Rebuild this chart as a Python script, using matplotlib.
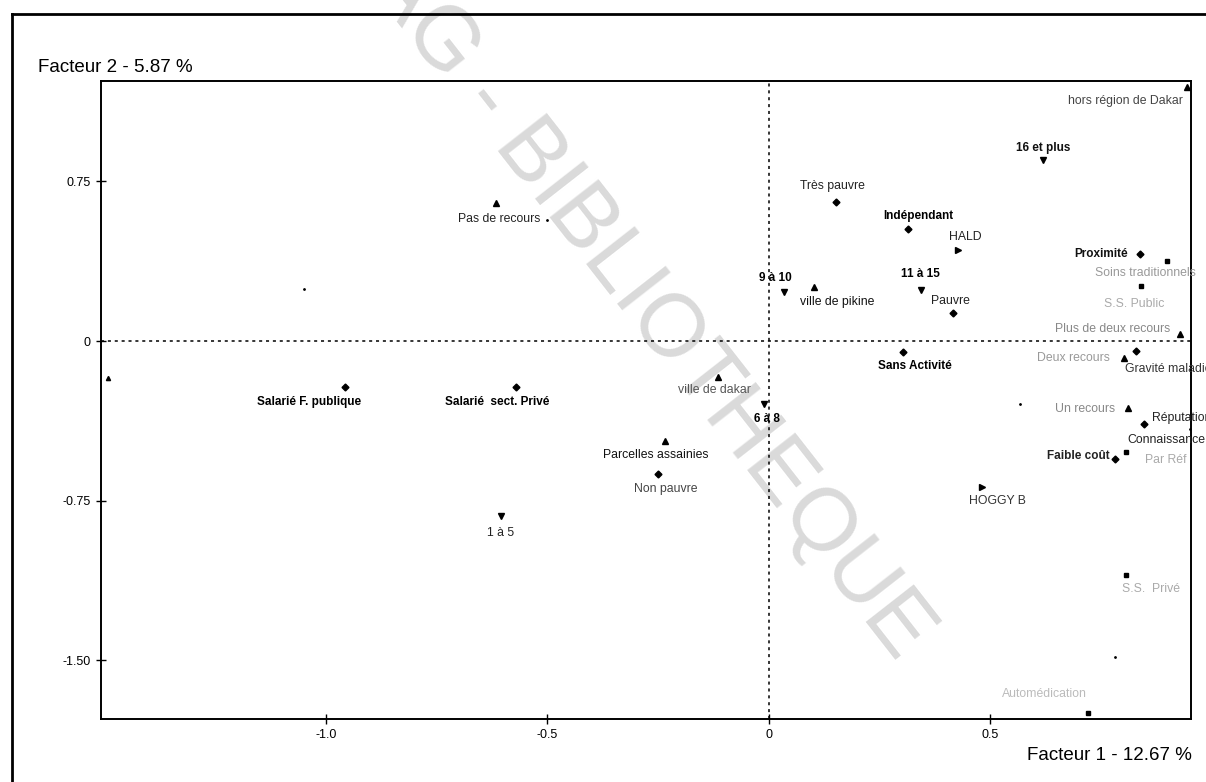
import matplotlib.pyplot as plt
from matplotlib.lines import Line2D

plt.rcParams['font.family'] = ['Liberation Sans', 'DejaVu Sans']

# modalites de l'AFC (coordonnees)
labels = ['Très pauvre', 'Indépendant', 'HALD', '9 à 10', 'ville de pikine', '11 à 15',
          'Pauvre', 'Sans Activité', 'ville de dakar', '6 à 8', 'Salarié F. publique',
          'Salarié  sect. Privé', '1 à 5', 'Pas de recours', 'Parcelles assainies',
          'Non pauvre', 'HOGGY B', '16 et plus', 'hors région de Dakar', 'Proximité',
          'Soins traditionnels', 'S.S. Public', 'Plus de deux recours', 'Deux recours',
          'Gravité maladie', 'Un recours', 'Réputation', 'Connaissance', 'Faible coût',
          'Par Réf', 'S.S.  Privé', 'Automédication']
fact1 = [0.151, 0.313, 0.426, 0.034, 0.102, 0.343,
         0.416, 0.303, -0.114, -0.011, -0.957,
         -0.571, -0.605, -0.616, -0.234,
         -0.251, 0.482, 0.619, 0.944, 0.837,
         0.899, 0.841, 0.928, 0.801,
         0.828, 0.811, 0.846, 0.950, 0.781,
         0.806, 0.807, 0.721]
fact2 = [0.654, 0.527, 0.427, 0.231, 0.255, 0.239,
         0.130, -0.050, -0.168, -0.297, -0.217,
         -0.215, -0.821, 0.646, -0.469,
         -0.626, -0.687, 0.850, 1.192, 0.408,
         0.376, 0.260, 0.033, -0.078,
         -0.047, -0.316, -0.391, -0.415, -0.555,
         -0.522, -1.099, -1.748]
kind = ['rev', 'act', 'hop', 'taille', 'zone', 'taille',
        'rev', 'act', 'zone', 'taille', 'act',
        'act', 'taille', 'rec', 'zone',
        'rev', 'hop', 'taille', 'zone', 'raison',
        'lieu', 'lieu', 'rec', 'rec',
        'raison', 'rec', 'raison', 'pt', 'raison',
        'lieu', 'lieu', 'lieu']

# points isoles sans etiquette
extra_x = [-1.493, -1.050, -0.500, 0.566, 0.781]
extra_y = [-0.174, 0.244, 0.568, -0.296, -1.482]

x_ticks = [-1.0, -0.5, 0, 0.5]
x_ticklabels = ['-1.0', '-0.5', '0', '0.5']
y_ticks = [0.75, 0, -0.75, -1.50]
y_ticklabels = ['0.75', '0', '-0.75', '-1.50']

markers = {'rev': ('D', 3.5), 'act': ('D', 3.5), 'raison': ('D', 3.5),
           'taille': ('v', 5), 'zone': ('^', 4.5), 'rec': ('^', 4.5),
           'hop': ('>', 5), 'lieu': ('s', 3.5), 'pt': ('.', 2)}

# placement des etiquettes : (dx, dy en pixels, alignement, gras, couleur)
lab_pos = [(-3, 16, 'center', False, '#222'), (11, 13, 'center', True, 'k'),
           (8, 13, 'center', False, '#222'), (-9, 14, 'center', True, 'k'),
           (23, -15, 'center', False, '#111'), (0, 16, 'center', True, 'k'),
           (-3, 12, 'center', False, '#222'), (12, -14, 'center', True, 'k'),
           (-4, -13, 'center', False, '#555'), (3, -15, 'center', True, 'k'),
           (-36, -15, 'center', True, 'k'), (-19, -15, 'center', True, 'k'),
           (0, -17, 'center', False, '#222'), (3, -16, 'center', False, '#222'),
           (-10, -14, 'center', False, '#111'), (8, -15, 'center', False, '#444'),
           (15, -14, 'center', False, '#333'), (0, 12, 'center', True, '#111'),
           (-4, -14, 'right', False, '#444'), (-12, 0, 'right', True, '#111'),
           (-22, -12, 'center', False, '#999'), (-7, -18, 'center', False, '#aaa'),
           (-10, 5, 'right', False, '#888'), (-14, 0, 'right', False, '#999'),
           (-11, -18, 'left', False, '#333'), (-13, -1, 'right', False, '#888'),
           (8, 6, 'left', False, '#222'), (-62, -11, 'left', False, '#222'),
           (-5, 3, 'right', True, '#222'), (19, -8, 'left', False, '#aaa'),
           (25, -14, 'center', False, '#aaa'), (-44, 19, 'center', False, '#bbb')]

fig = plt.figure(figsize=(12.06, 7.82), dpi=100)
ax = fig.add_axes([0.0837, 0.0806, 0.9039, 0.8158])

# filigrane (derriere le graphique)
fig.text(0.7587, 0.1714, 'CESAG - BIBLIOTHEQUE', fontsize=64, color='#dadada',
         rotation=-52, rotation_mode='anchor', ha='right', va='center', zorder=-1)

ax.set_facecolor('none')
ax.axhline(0, color='k', lw=1.1, ls=(0, (2, 2.5)))
ax.axvline(0, color='k', lw=1.1, ls=(0, (2, 2.5)))

for i in range(len(labels)):
    m, s = markers[kind[i]]
    ax.plot(fact1[i], fact2[i], marker=m, ms=s, color='k', ls='none')
    dx, dy, ha, bold, col = lab_pos[i]
    ax.annotate(labels[i], (fact1[i], fact2[i]), xytext=(dx, dy), textcoords='offset pixels',
                ha=ha, va='center', fontsize=8.5 if bold else 8.8, color=col,
                fontweight='bold' if bold else 'normal', annotation_clip=False)

ax.plot(extra_x[:1], extra_y[:1], marker='^', ms=3, color='k', ls='none')
ax.plot(extra_x[1:], extra_y[1:], marker='.', ms=2, color='k', ls='none')

ax.set_xlim(-1.508, 0.953)
ax.set_ylim(-1.775, 1.221)
ax.set_xticks(x_ticks)
ax.set_xticklabels(x_ticklabels)
ax.set_yticks(y_ticks)
ax.set_yticklabels(y_ticklabels)
ax.tick_params(direction='inout', length=7, width=1, labelsize=9, pad=4)
for sp in ax.spines.values():
    sp.set_linewidth(1.4)

fig.text(38 / 1206, 1 - 67 / 782, 'Facteur 2 - 5.87 %', fontsize=13.5, ha='left', va='center')
fig.text(1192 / 1206, 1 - 756 / 782, 'Facteur 1 - 12.67 %', fontsize=13.5, ha='right', va='center')

# cadre exterieur
fig.add_artist(Line2D([12 / 1206, 12 / 1206], [0, 1 - 14 / 782], color='k', lw=2,
                      transform=fig.transFigure))
fig.add_artist(Line2D([12 / 1206, 1], [1 - 14 / 782, 1 - 14 / 782], color='k', lw=2,
                      transform=fig.transFigure))

plt.savefig('out.png', dpi=100)
